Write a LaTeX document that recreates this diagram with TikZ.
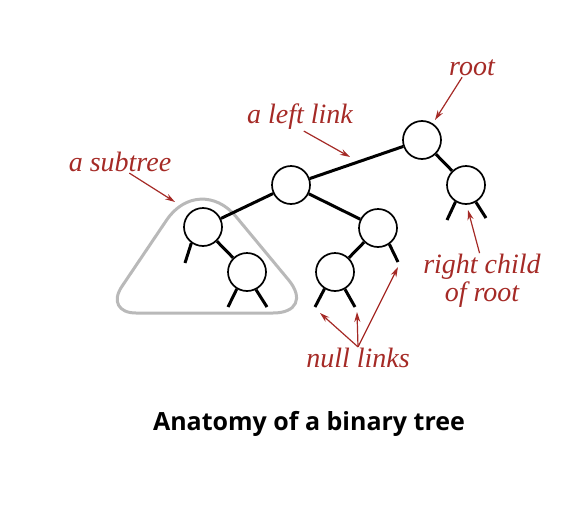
\documentclass[tikz,border=0pt]{standalone}
\usepackage{fontspec}
\setmainfont{Liberation Serif}
\newfontfamily\capfont{Open Sans}
\usetikzlibrary{arrows.meta}
\definecolor{notered}{RGB}{165,42,38}
\definecolor{treegray}{RGB}{185,185,185}

\begin{document}
\begin{tikzpicture}[x=1pt,y=-1pt,
        treenode/.style={circle,draw,fill=white,line width=1.7pt,minimum size=38pt,inner sep=0pt},
        link/.style={line width=3pt},
        nulllink/.style={line width=3pt},
        note/.style={notered,font=\fontsize{28}{28}\selectfont\itshape,inner sep=1pt},
        notearrow/.style={draw=notered,line width=1.2pt,-{Stealth[length=10pt,width=6pt]}}]
        \useasboundingbox (0,0) rectangle (588,506);
        % subtree outline
        \draw[treegray,line width=3pt] (210,313) [rounded corners=43pt] -- (316,313) [rounded corners=58pt] -- (199,172) [rounded corners=32pt] -- (104,313) -- cycle;
        % tree nodes
        \node[treenode] (root) at (422,140) {};
        \node[treenode] (rchild) at (466,185) {};
        \node[treenode] (lchild) at (291,185) {};
        \node[treenode] (sub) at (203,227) {};
        \node[treenode] (subr) at (247,272) {};
        \node[treenode] (mid) at (378,228) {};
        \node[treenode] (midl) at (335,272) {};
        \draw[link] (root) -- (lchild);
        \draw[link] (root) -- (rchild);
        \draw[link] (lchild) -- (sub);
        \draw[link] (lchild) -- (mid);
        \draw[link] (sub) -- (subr);
        \draw[link] (mid) -- (midl);
        % null links
        \coordinate (n1) at (185,263);
        \coordinate (n2) at (228,307);
        \coordinate (n3) at (267,307);
        \coordinate (n4) at (447,220);
        \coordinate (n5) at (486,218);
        \coordinate (n6) at (398,262);
        \coordinate (n7) at (315,307);
        \coordinate (n8) at (355,307);
        \draw[nulllink] (sub.234) -- (n1);
        \draw[nulllink] (subr.239) -- (n2);
        \draw[nulllink] (subr.297) -- (n3);
        \draw[nulllink] (rchild.238) -- (n4);
        \draw[nulllink] (rchild.300) -- (n5);
        \draw[nulllink] (mid.305) -- (n6);
        \draw[nulllink] (midl.238) -- (n7);
        \draw[nulllink] (midl.300) -- (n8);
        % labels
        \node[note] (lroot) at (472,68) {root};
        \node[note] (lleft) at (300,117) {a left link};
        \node[note] (lsub) at (120,162) {a subtree};
        \node[note,align=center] (lright) at (482,281) {right child\\of root};
        \node[note] (lnull) at (358,358) {null links};
        \coordinate (troot) at (435,120);
        \coordinate (tleft) at (350,157);
        \coordinate (tsub) at (175,202);
        \coordinate (tright) at (468,210);
        \coordinate (tnull1) at (320,313);
        \coordinate (tnull2) at (357,312);
        \coordinate (tnull3) at (398,267);
        \draw[notearrow] (lroot.-137) -- (troot);
        \draw[notearrow] (lleft.-75) -- (tleft);
        \draw[notearrow] (lsub.-50) -- (tsub);
        \draw[notearrow] (lright.95) -- (tright);
        \draw[notearrow] (lnull.north) -- (tnull1);
        \draw[notearrow] (lnull.north) -- (tnull2);
        \draw[notearrow] (lnull.north) -- (tnull3);
        % caption
        \node[font=\capfont\bfseries\fontsize{25}{27}\selectfont] (caption) at (309,424) {Anatomy of a binary tree};
    \end{tikzpicture}
\end{document}
